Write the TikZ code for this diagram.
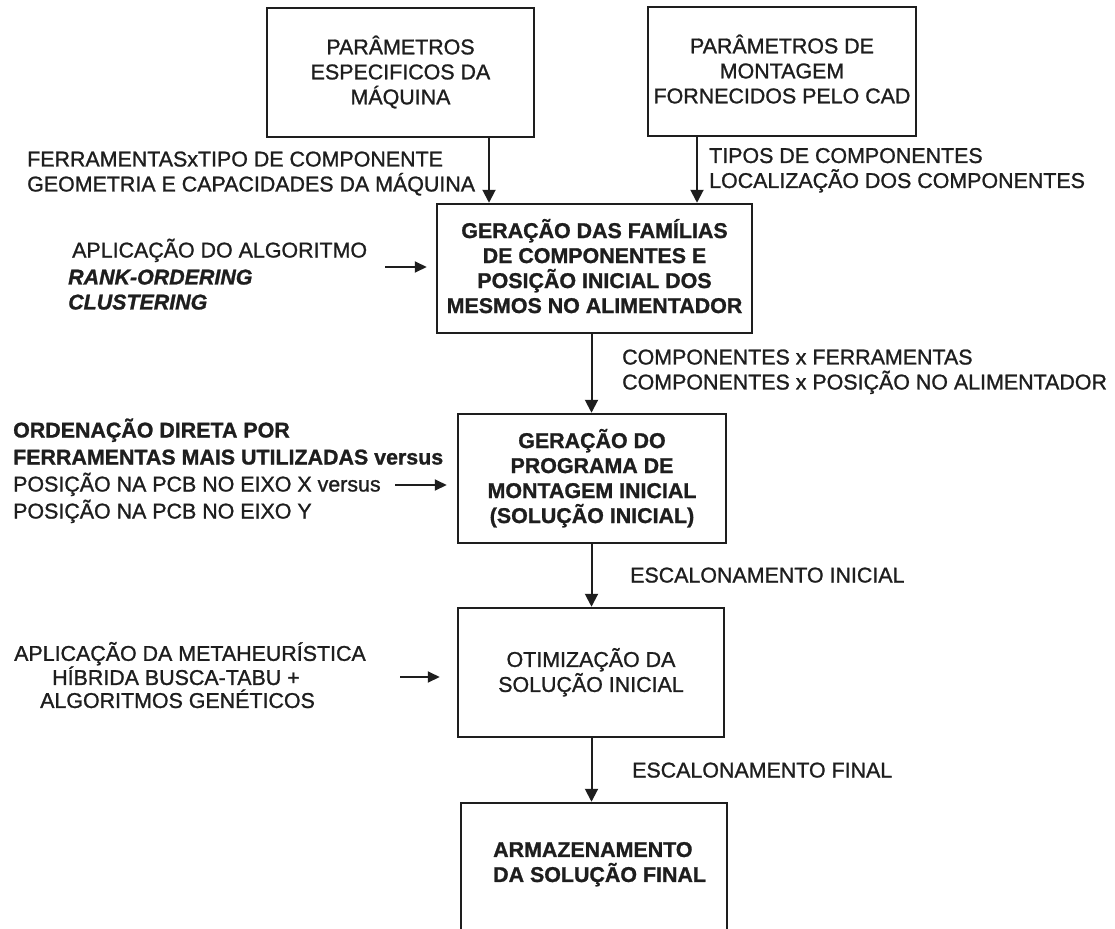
\documentclass[tikz,border=0pt]{standalone}
\usepackage{fontspec}
\setmainfont{Liberation Sans}[FakeBold=1.1]
\usetikzlibrary{arrows.meta}

\definecolor{ink}{HTML}{1E1E1E}

% struts that make a text block's centre sit at the middle of its capitals
\newcommand\topstrut{\rule{0pt}{20pt}}
\newcommand\botstrut{\rule[-5pt]{0pt}{5pt}}
\newcommand\txtfont{\fontsize{21.4}{25}\selectfont}

\tikzset{
  txtbase/.style={inner sep=0pt, text=ink,
    execute at begin node=\topstrut, execute at end node=\botstrut},
  box/.style={txtbase, draw=ink, line width=2.5pt, rectangle, align=center,
    font=\txtfont},
  lbl/.style={txtbase, anchor=west, align=left, font=\txtfont},
  flow/.style={draw=ink, line width=2pt, -{Triangle[length=13pt,width=13pt]}},
  side/.style={draw=ink, line width=2pt, -{Triangle[length=12pt,width=11pt]}},
}

\begin{document}
\begin{tikzpicture}[x=1pt,y=-1pt]
\useasboundingbox (0,0) rectangle (1115,928);
\fill[white] (0,0) rectangle (1115,928);
\clip (0,0) rectangle (1115,928);

% process boxes
\node[box, minimum width=267pt, minimum height=129pt] (p1) at (400.5,72.5)
  {PARÂMETROS\\ESPECIFICOS DA\\MÁQUINA};
\node[box, minimum width=268pt, minimum height=129pt] (p2) at (782,71.5)
  {PARÂMETROS DE\\MONTAGEM\\FORNECIDOS PELO CAD};
\node[box, minimum width=315pt, minimum height=129pt, font=\txtfont\bfseries] (b3) at (594.5,268.5)
  {GERAÇÃO DAS FAMÍLIAS\\DE COMPONENTES E\\POSIÇÃO INICIAL DOS\\MESMOS NO ALIMENTADOR};
\node[box, minimum width=268pt, minimum height=129pt, font=\txtfont\bfseries] (b4) at (592,478.5)
  {GERAÇÃO DO\\PROGRAMA DE\\MONTAGEM INICIAL\\(SOLUÇÃO INICIAL)};
\node[box, minimum width=266pt, minimum height=129pt] (b5) at (591,672.5)
  {OTIMIZAÇÃO DA\\SOLUÇÃO INICIAL};
\node[box, minimum width=266pt, minimum height=150pt] (b6) at (594,878) {};
\node[lbl, font=\txtfont\bfseries] (b6t) at (493,864.5)
  {ARMAZENAMENTO\\DA SOLUÇÃO FINAL};

% vertical flow
\coordinate (xa) at (489,0);
\coordinate (xb) at (697,0);
\coordinate (xm) at (591.5,0);
\draw[flow] (p1.south -| xa) -- (b3.north -| xa);
\draw[flow] (p2.south -| xb) -- (b3.north -| xb);
\draw[flow] (b3.south -| xm) -- (b4.north -| xm);
\draw[flow] (b4.south -| xm) -- (b5.north -| xm);
\draw[flow] (b5.south -| xm) -- (b6.north -| xm);

% inputs from the left
\coordinate (s3) at (385,267);
\coordinate (s4) at (395,485);
\coordinate (s5) at (400,677);
\draw[side, shorten >=9pt] (s3) -- (s3 -| b3.west);
\draw[side, shorten >=10pt] (s4) -- (s4 -| b4.west);
\draw[side, shorten >=17pt] (s5) -- (s5 -| b5.west);

% annotations
\node[lbl] (t1) at (27,174)
  {FERRAMENTASxTIPO DE COMPONENTE\\GEOMETRIA E CAPACIDADES DA MÁQUINA};
\node[lbl] (t2) at (709,170.5)
  {TIPOS DE COMPONENTES\\LOCALIZAÇÃO DOS COMPONENTES};
\node[lbl] (t3) at (72,250) {APLICAÇÃO DO ALGORITMO};
\node[lbl, font=\txtfont\bfseries\itshape] (t4) at (68,292)
  {RANK-ORDERING\\CLUSTERING};
\node[lbl] (t5) at (622,372)
  {COMPONENTES x FERRAMENTAS\\COMPONENTES x POSIÇÃO NO ALIMENTADOR};
\node[lbl, font=\fontsize{21.4}{27}\selectfont] (t6) at (13,471)
  {\textbf{ORDENAÇÃO DIRETA POR}\\\textbf{FERRAMENTAS MAIS UTILIZADAS versus}\\POSIÇÃO NA PCB NO EIXO X versus\\POSIÇÃO NA PCB NO EIXO Y};
\node[lbl] (t7) at (630,575) {ESCALONAMENTO INICIAL};
\node[lbl, font=\fontsize{21.4}{23}\selectfont] (t8) at (14,677.5)
  {APLICAÇÃO DA METAHEURÍSTICA\\\hspace*{38pt}HÍBRIDA BUSCA-TABU +\\\hspace*{26pt}ALGORITMOS GENÉTICOS};
\node[lbl] (t9) at (632,770) {ESCALONAMENTO FINAL};
\end{tikzpicture}
\end{document}
